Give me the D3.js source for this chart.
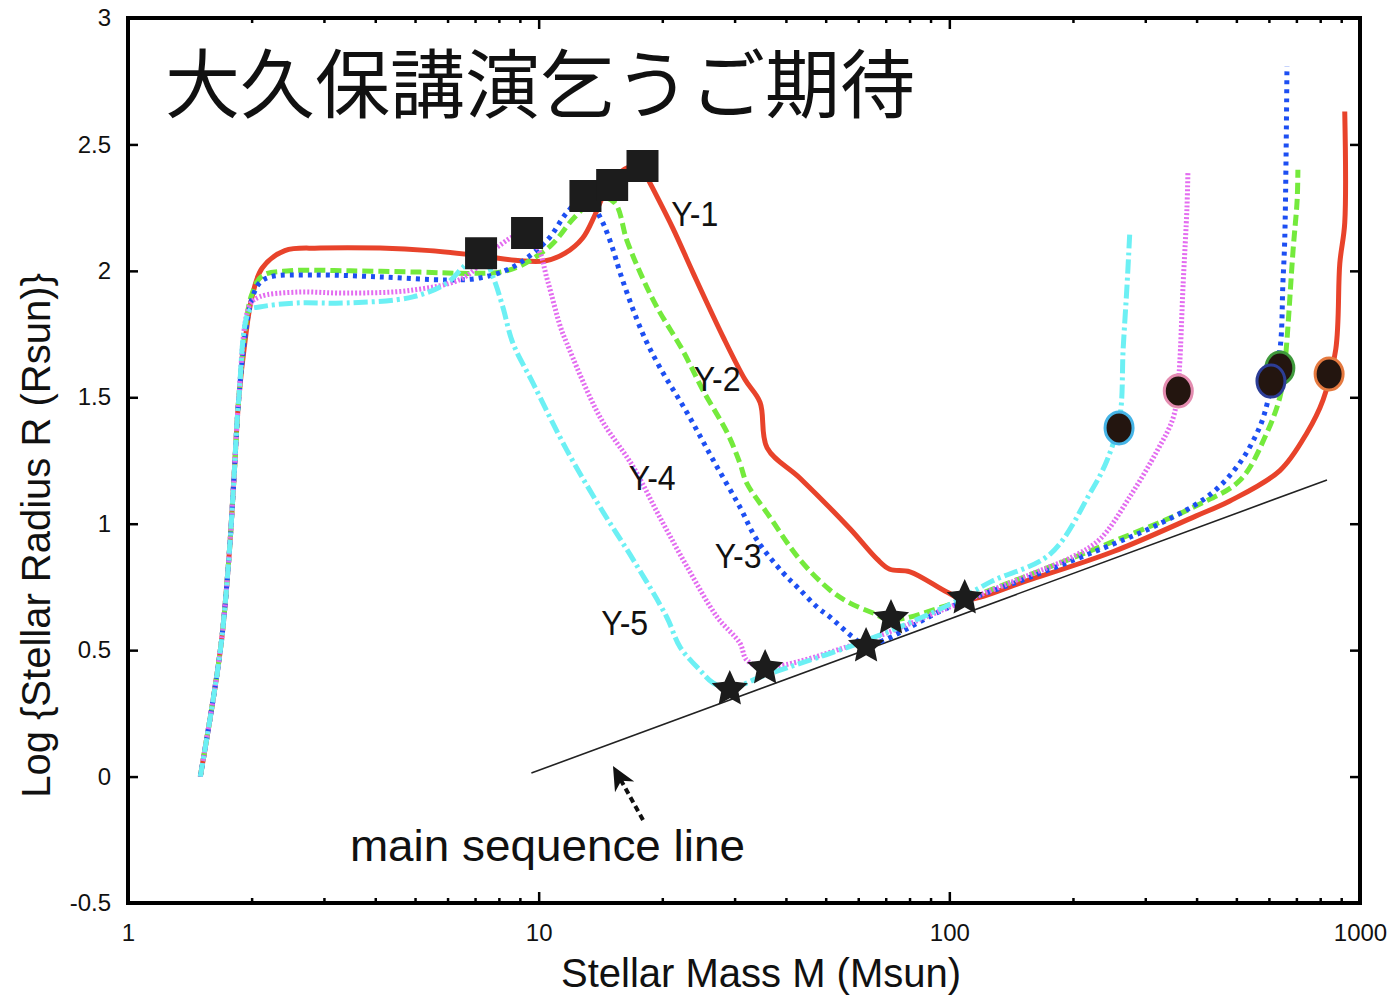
<!DOCTYPE html>
<html>
<head>
<meta charset="utf-8">
<script src="https://cdn.jsdelivr.net/npm/d3@7"></script>
<style>
  body { margin: 0; background: #fff; }
  svg { display: block; font-family: "Liberation Sans", Arial, Helvetica, sans-serif; }
</style>
</head>
<body>
<svg id="chart" width="1397" height="997"></svg>
<script>
// shared early (accretion) part of every track
const trunkM = [1.50, 1.61, 1.69, 1.76, 1.81, 1.86];
const trunkR = [0.00, 0.30, 0.54, 0.86, 1.17, 1.49];

// Y-1 .. Y-5 tracks after the trunk: mass (Msun) and log R (Rsun)
const y1M = [1.93, 2.00, 2.12, 2.41, 2.94, 4.11, 5.43, 7.19, 9.02, 10.4, 11.6, 12.8, 13.7, 14.4, 15.8, 17.7, 18.5, 21.2, 23.8, 28.1, 31.8, 34.6, 36.0, 43.3, 57.3, 66.7, 71.6, 80.2, 98.6, 109, 158, 251, 398, 482, 638, 743, 813, 873, 893, 918, 918];
const y1R = [1.73, 1.89, 2.01, 2.08, 2.09, 2.09, 2.08, 2.06, 2.04, 2.04, 2.07, 2.13, 2.22, 2.30, 2.39, 2.42, 2.36, 2.17, 1.99, 1.74, 1.57, 1.48, 1.30, 1.18, 0.98, 0.86, 0.82, 0.81, 0.73, 0.70, 0.78, 0.89, 1.03, 1.09, 1.21, 1.36, 1.49, 1.69, 2.03, 2.19, 2.63];

const y2M = [1.93, 2.00, 2.12, 2.48, 3.48, 5.14, 6.81, 8.05, 9.02, 10.7, 12.2, 13.9, 15.3, 16.4, 17.7, 19.4, 22.4, 25.1, 28.8, 30.9, 32.1, 36.0, 43.3, 51.2, 57.3, 65.2, 72.1, 100, 158, 251, 398, 511, 593, 638, 655, 664, 687, 703, 706];
const y2R = [1.77, 1.905, 1.98, 2.00, 2.00, 1.995, 1.99, 1.995, 2.02, 2.10, 2.21, 2.29, 2.27, 2.12, 1.99, 1.857, 1.687, 1.529, 1.359, 1.24, 1.161, 1.042, 0.857, 0.738, 0.686, 0.647, 0.62, 0.68, 0.80, 0.93, 1.07, 1.173, 1.359, 1.50, 1.62, 1.727, 2.08, 2.28, 2.40];

const y3M = [1.93, 2.00, 2.09, 2.22, 2.82, 4.11, 5.98, 7.19, 8.65, 10.5, 11.7, 13.0, 14.1, 14.9, 16.0, 17.9, 19.7, 23.0, 26.6, 30.9, 34.0, 39.4, 42.6, 47.6, 51.2, 58.2, 62.7, 100, 158, 251, 316, 424, 501, 570, 604, 638, 649, 656, 664];
const y3R = [1.75, 1.885, 1.952, 1.976, 1.984, 1.976, 1.964, 1.972, 2.015, 2.122, 2.229, 2.296, 2.213, 2.122, 1.964, 1.754, 1.62, 1.438, 1.252, 1.066, 0.936, 0.805, 0.75, 0.671, 0.631, 0.552, 0.52, 0.67, 0.79, 0.92, 0.99, 1.106, 1.224, 1.383, 1.52, 1.687, 1.952, 2.134, 2.81];

const y4M = [1.98, 2.09, 2.58, 3.41, 4.94, 6.55, 7.93, 9.02, 9.91, 10.5, 11.3, 11.7, 14.1, 17.0, 19.7, 23.0, 27.2, 30.9, 32.1, 35.6, 63.1, 100, 158, 200, 233, 275, 321, 351, 361, 371, 379, 381];
const y4R = [1.865, 1.897, 1.916, 1.912, 1.924, 1.972, 2.094, 2.142, 2.094, 1.964, 1.778, 1.715, 1.422, 1.224, 1.027, 0.829, 0.631, 0.528, 0.461, 0.433, 0.54, 0.67, 0.80, 0.87, 0.94, 1.106, 1.29, 1.42, 1.556, 1.95, 2.25, 2.387];

const y5M = [1.98, 2.09, 2.58, 3.41, 4.94, 5.98, 6.55, 7.24, 7.74, 8.18, 8.65, 9.68, 11.7, 14.1, 17.0, 20.5, 22.1, 24.7, 26.6, 29.2, 35.5, 63.1, 100, 126, 176, 220, 242, 260, 265, 271, 275];
const y5R = [1.845, 1.857, 1.873, 1.873, 1.897, 1.952, 2.015, 2.07, 1.976, 1.857, 1.715, 1.557, 1.292, 1.066, 0.857, 0.631, 0.512, 0.421, 0.37, 0.35, 0.40, 0.54, 0.68, 0.77, 0.88, 1.12, 1.25, 1.42, 1.69, 1.95, 2.15];

// markers
const squareM = [7.24, 9.37, 13.0, 15.1, 17.9];
const squareR = [2.07, 2.15, 2.296, 2.34, 2.415];
const starM = [29.2, 35.6, 62.7, 72.1, 109];
const starR = [0.35, 0.433, 0.52, 0.631, 0.71];
const endM = [259, 361, 638, 607, 841];
const endR = [1.379, 1.525, 1.616, 1.564, 1.592];
const endRing = ['#45b4e6', '#e48cb0', '#3f9a3c', '#2c3d96', '#e5793f'];

// main sequence line and annotations
const msM = [9.6, 831];
const msR = [0.014, 1.173];
const labelText = ['Y-1', 'Y-2', 'Y-3', 'Y-4', 'Y-5'];
const labelM = [24.0, 27.2, 30.6, 18.9, 16.2];
const labelR = [2.229, 1.576, 0.876, 1.185, 0.611];
const arrowM = [17.95, 15.17];
const arrowR = [-0.172, 0.042];

const xMajor = [1, 10, 100, 1000];
const xMinor = [2, 3, 4, 5, 6, 7, 8, 9, 20, 30, 40, 50, 60, 70, 80, 90, 200, 300, 400, 500, 600, 700, 800, 900];
const yTicks = [-0.5, 0, 0.5, 1, 1.5, 2, 2.5, 3];

const svg = d3.select('#chart');
const x = d3.scaleLog().domain([1, 1000]).range([128, 1360]);
const y = d3.scaleLinear().domain([-0.5, 3]).range([903, 18]);

const zip = (ms, rs) => ms.map((m, i) => ({ m, r: rs[i] }));

const series = [
  { m: trunkM.concat(y1M), r: trunkR.concat(y1R), color: '#e8432b', dash: null },
  { m: trunkM.concat(y2M), r: trunkR.concat(y2R), color: '#74ea3c', dash: '11,5' },
  { m: trunkM.concat(y3M), r: trunkR.concat(y3R), color: '#1d4ff2', dash: '4,5' },
  { m: trunkM.concat(y4M), r: trunkR.concat(y4R), color: '#e36cf0', dash: '2,2' },
  { m: trunkM.concat(y5M), r: trunkR.concat(y5R), color: '#6cf0f4', dash: '14,4,3,4' },
];

// axes (ticks point inward on all four sides)
function styleAxis(g) {
  g.select('.domain').remove();
  g.selectAll('line').attr('stroke', '#000').attr('stroke-width', 2.5);
  g.selectAll('text').attr('fill', '#111').attr('font-size', 24)
    .attr('font-family', '"Liberation Sans", Arial, sans-serif');
}

svg.append('g').attr('transform', 'translate(0,903)')
  .call(d3.axisBottom(x).tickValues(xMinor).tickSize(-5).tickFormat(''))
  .call(styleAxis);
svg.append('g').attr('transform', 'translate(0,903)')
  .call(d3.axisBottom(x).tickValues(xMajor).tickSize(-11).tickPadding(21).tickFormat(d => String(d)))
  .call(styleAxis);
svg.append('g').attr('transform', 'translate(0,18)')
  .call(d3.axisTop(x).tickValues(xMinor).tickSize(-5).tickFormat(''))
  .call(styleAxis);
svg.append('g').attr('transform', 'translate(0,18)')
  .call(d3.axisTop(x).tickValues(xMajor).tickSize(-11).tickFormat(''))
  .call(styleAxis);
svg.append('g').attr('transform', 'translate(128,0)')
  .call(d3.axisLeft(y).tickValues(yTicks).tickSize(-10).tickPadding(17).tickFormat(d => String(d)))
  .call(styleAxis);
svg.append('g').attr('transform', 'translate(1360,0)')
  .call(d3.axisRight(y).tickValues(yTicks).tickSize(-10).tickFormat(''))
  .call(styleAxis);

svg.append('rect')
  .attr('x', x(1)).attr('y', y(3))
  .attr('width', x(1000) - x(1)).attr('height', y(-0.5) - y(3))
  .attr('fill', 'none').attr('stroke', '#000').attr('stroke-width', 4);

// main sequence line
svg.append('path')
  .attr('d', d3.line().x(d => x(d.m)).y(d => y(d.r))(zip(msM, msR)))
  .attr('stroke', '#222').attr('stroke-width', 1.6).attr('fill', 'none');

// tracks
const line = d3.line().x(d => x(d.m)).y(d => y(d.r)).curve(d3.curveCatmullRom.alpha(0.5));
svg.append('g').selectAll('path')
  .data(series)
  .join('path')
  .attr('d', d => line(zip(d.m, d.r)))
  .attr('fill', 'none')
  .attr('stroke', d => d.color)
  .attr('stroke-width', 5)
  .attr('stroke-dasharray', d => d.dash)
  .attr('stroke-linejoin', 'round');

// squares
svg.append('g').selectAll('path')
  .data(zip(squareM, squareR))
  .join('path')
  .attr('transform', d => `translate(${x(d.m)},${y(d.r)})`)
  .attr('d', d3.symbol(d3.symbolSquare, 32 * 32))
  .attr('fill', '#1c1c1c');

// stars: fatter five-point star than d3.symbolStar
const fatStar = {
  draw(ctx, size) {
    const ro = Math.sqrt(size), ri = ro * 0.48;
    for (let i = 0; i < 10; i++) {
      const a = -Math.PI / 2 + i * Math.PI / 5;
      const rr = i % 2 ? ri : ro;
      if (i === 0) ctx.moveTo(rr * Math.cos(a), rr * Math.sin(a));
      else ctx.lineTo(rr * Math.cos(a), rr * Math.sin(a));
    }
    ctx.closePath();
  }
};
svg.append('g').selectAll('path')
  .data(zip(starM, starR))
  .join('path')
  .attr('transform', d => `translate(${x(d.m)},${y(d.r) + 1})`)
  .attr('d', d3.symbol(fatStar, 19 * 19))
  .attr('fill', '#1c1c1c');

// end points
svg.append('g').selectAll('ellipse')
  .data(zip(endM, endR))
  .join('ellipse')
  .attr('cx', d => x(d.m)).attr('cy', d => y(d.r))
  .attr('rx', 14).attr('ry', 16)
  .attr('fill', '#23150f')
  .attr('stroke', (d, i) => endRing[i])
  .attr('stroke-width', 3);

// track labels
svg.append('g').selectAll('text')
  .data(labelText)
  .join('text')
  .attr('x', (d, i) => x(labelM[i]))
  .attr('y', (d, i) => y(labelR[i]))
  .attr('dy', '0.36em')
  .attr('text-anchor', 'middle')
  .attr('font-size', 35)
  .attr('textLength', 47)
  .attr('lengthAdjust', 'spacingAndGlyphs')
  .attr('fill', '#111')
  .text(d => d);

// arrow to main sequence line
const ax0 = x(arrowM[0]), ay0 = y(arrowR[0]);
const ax1 = x(arrowM[1]), ay1 = y(arrowR[1]);
const len = Math.hypot(ax1 - ax0, ay1 - ay0);
const ux = (ax1 - ax0) / len, uy = (ay1 - ay0) / len;
svg.append('line')
  .attr('x1', ax0).attr('y1', ay0)
  .attr('x2', ax1 - ux * 16).attr('y2', ay1 - uy * 16)
  .attr('stroke', '#111').attr('stroke-width', 4).attr('stroke-dasharray', '6,4');
const head = [
  [ax1, ay1],
  [ax1 - ux * 24 - uy * 11, ay1 - uy * 24 + ux * 11],
  [ax1 - ux * 17, ay1 - uy * 17],
  [ax1 - ux * 24 + uy * 11, ay1 - uy * 24 - ux * 11],
];
svg.append('path').attr('d', 'M' + head.join('L') + 'Z').attr('fill', '#111');

svg.append('text')
  .attr('x', x(3.47)).attr('y', y(-0.334))
  .attr('font-size', 44).attr('textLength', 395).attr('lengthAdjust', 'spacingAndGlyphs')
  .attr('fill', '#111')
  .text('main sequence line');

// axis titles
svg.append('text')
  .attr('x', (x(1) + x(1000)) / 2 + 17).attr('y', 987)
  .attr('text-anchor', 'middle').attr('font-size', 40).attr('fill', '#111')
  .text('Stellar Mass M (Msun)');
svg.append('text')
  .attr('transform', `translate(50,${(y(3) + y(-0.5)) / 2 + 75}) rotate(-90)`)
  .attr('text-anchor', 'middle').attr('font-size', 40).attr('fill', '#111')
  .text('Log {Stellar Radius R (Rsun)}');

// title
svg.append('text')
  .attr('x', 165).attr('y', 112)
  .attr('font-family', '"Noto Sans CJK JP", sans-serif')
  .attr('font-size', 75).attr('fill', '#111')
  .text('大久保講演乞うご期待');
</script>
</body>
</html>
